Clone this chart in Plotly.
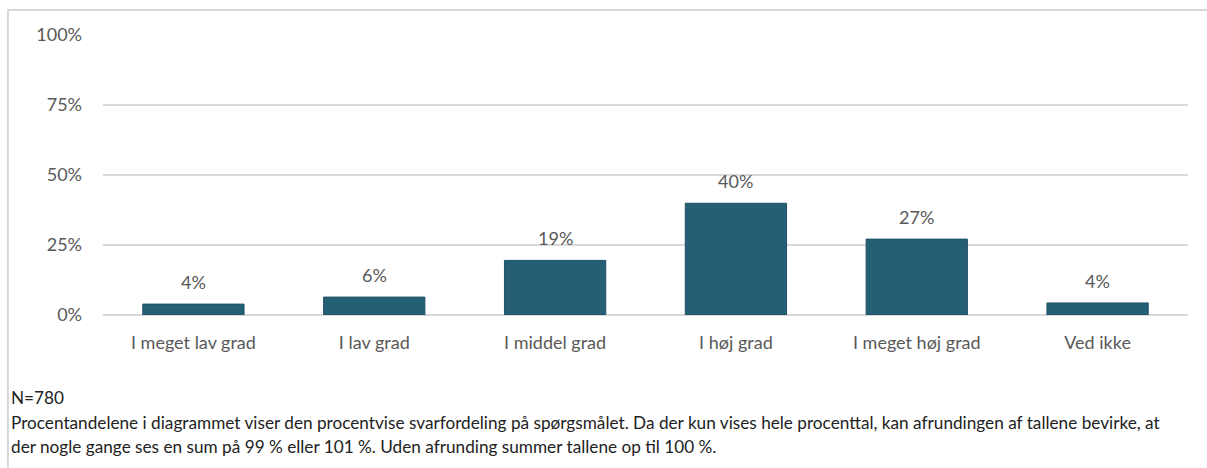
import plotly.graph_objects as go

# svarkategorier og andele
categories = ["I meget lav grad", "I lav grad", "I middel grad", "I høj grad", "I meget høj grad", "Ved ikke"]
shares = [3.9, 6.4, 19.5, 39.9, 27.1, 4.3]
labels = ["4%", "6%", "19%", "40%", "27%", "4%"]
y_ticks = [0, 25, 50, 75, 100]
y_tick_text = ["0%", "25%", "50%", "75%", "100%"]

note_lines = [
    "N=780",
    "Procentandelene i diagrammet viser den procentvise svarfordeling på spørgsmålet. Da der kun vises hele procenttal, kan afrundingen af tallene bevirke, at",
    "der nogle gange ses en sum på 99 % eller 101 %. Uden afrunding summer tallene op til 100 %.",
]

FONT = "Lato, Calibri, sans-serif"
GREY = "#595959"

fig = go.Figure()
fig.add_trace(go.Bar(
    x=categories, y=shares,
    marker=dict(color="#255F74", line=dict(color="#21506D", width=1)),
    width=0.56,
    hoverinfo="skip",
))

# dataetiketter over søjlerne
for c, v, t in zip(categories, shares, labels):
    fig.add_annotation(x=c, y=v, text=t, showarrow=False, yanchor="bottom", yshift=9,
                       font=dict(family=FONT, size=18, color=GREY))

# fodnote, en linje ad gangen for at få linjeafstanden
for i, line in enumerate(note_lines):
    fig.add_annotation(xref="paper", yref="paper", x=-0.0865, y=-0.296 - 0.0875 * i,
                       xanchor="left", yanchor="middle", align="left", showarrow=False,
                       text=line, font=dict(family=FONT, size=17.2, color="#222222"))

# ramme om figuren
fig.add_shape(type="rect", xref="paper", yref="paper", x0=-0.0876, x1=1.2, y0=-1.0, y1=1.0893,
              line=dict(color="#D9D9D9", width=2), fillcolor="rgba(0,0,0,0)", layer="below")

fig.update_layout(
    width=1207, height=468,
    margin=dict(l=103, r=19, t=35, b=153),
    paper_bgcolor="white", plot_bgcolor="white",
    showlegend=False,
    font=dict(family=FONT, size=18, color=GREY),
    bargap=0.44,
)
fig.update_xaxes(showgrid=False, showline=False, ticks="", tickfont=dict(size=18, color=GREY),
                 ticklabelstandoff=15)
fig.update_yaxes(range=[0, 100], tickvals=y_ticks, ticktext=y_tick_text, showgrid=True,
                 gridcolor="#D9D9D9", gridwidth=1.5, zeroline=True, zerolinecolor="#D9D9D9",
                 zerolinewidth=1.5, showline=False, ticks="", ticklabelstandoff=20,
                 tickfont=dict(size=18, color=GREY))

fig.write_html("out.html", config={"displayModeBar": False},
               post_script="document.body.style.margin='0';")
